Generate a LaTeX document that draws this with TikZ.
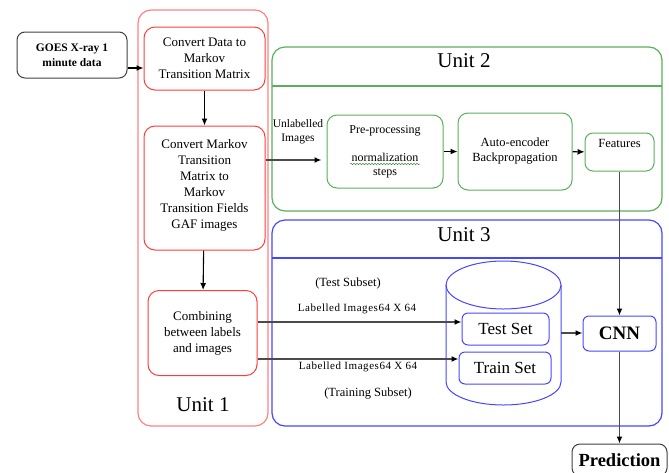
\documentclass[tikz,border=0pt]{standalone}
\usepackage{fontspec}
\setmainfont{Liberation Serif}
\newfontfamily\spacedfont[LetterSpace=5]{Liberation Serif}
\usetikzlibrary{arrows.meta,decorations.pathmorphing}
\definecolor{redA}{RGB}{255,60,60}
\definecolor{redL}{RGB}{255,130,130}
\definecolor{grnA}{RGB}{90,175,90}
\definecolor{bluA}{RGB}{70,70,255}
\definecolor{conn}{RGB}{75,75,75}
\tikzset{
  txt/.style={font=\fontsize{13}{16}\selectfont, align=center, inner sep=0pt},
  rbox/.style={draw=redA, line width=1pt, rounded corners=11pt, txt},
  gbox/.style={draw=grnA, line width=1pt, rounded corners=10pt, txt},
  bbox/.style={draw=bluA, line width=1pt, rounded corners=6pt, txt},
  kbox/.style={draw=black!75, line width=1pt, rounded corners=8pt, txt},
  unitframe/.style={line width=1.2pt, rounded corners=13pt},
  title/.style={font=\fontsize{21}{24}\selectfont, inner sep=0pt},
  arr/.style={draw=black, line width=1.1pt, -{Latex[length=7pt,width=6pt]}},
  garr/.style={draw=conn, line width=1.7pt, -{Latex[length=7pt,width=6pt,color=black]}},
  lab/.style={font=\spacedfont\fontsize{11}{13}\selectfont, inner sep=0pt},
  plab/.style={font=\fontsize{12.5}{14}\selectfont, inner sep=0pt},
}
\begin{document}
\begin{tikzpicture}[x=1pt,y=-1pt]
\useasboundingbox (0,0) rectangle (669,472);
% Unit frames
\draw[unitframe, draw=redL] (138,10) rectangle (268,426);
\draw[unitframe, draw=grnA] (272,47) rectangle (662,211);
\draw[draw=grnA, line width=1.2pt] (272,86) -- (662,86);
\draw[unitframe, draw=bluA] (272,220) rectangle (662,426);
\draw[draw=bluA, line width=1.2pt] (272,258) -- (662,258);
\node[title] (u1) at (203,405) {Unit 1};
\node[title] (u2) at (464,61) {Unit 2};
\node[title] (u3) at (464,235) {Unit 3};

% Unit 1
\node[kbox, minimum width=110pt, minimum height=46pt, font=\bfseries\fontsize{11.5}{15}\selectfont] (goes) at (72,55) {GOES X-ray 1\\minute data};
\node[rbox, minimum width=121pt, minimum height=63pt] (a) at (204.5,58.5) {Convert Data to\\Markov\\Transition Matrix};
\node[rbox, minimum width=121pt, minimum height=124pt] (b) at (204.5,188) {Convert Markov\\Transition\\Matrix to\\Markov\\Transition Fields\\GAF images\\[-8pt]};
\node[rbox, minimum width=109pt, minimum height=85pt] (c) at (202.5,333) {Combining\\between labels\\and images};
\coordinate (g1) at (goes.east |- 0,68);
\draw[arr] (g1) -- (a.west |- g1);
\draw[arr] (a) -- (b);
\draw[arr] (b) -- (c);

% Unit 2
\node[txt, font=\fontsize{11.5}{14}\selectfont] (unl) at (298,132) {Unlabelled\\Images};
\node[gbox, minimum width=116pt, minimum height=73pt, font=\fontsize{12}{14}\selectfont] (pre) at (385,151.5) {Pre-processing\\[14pt]normalization\\steps};
\coordinate (sq1) at (350,164);
\coordinate (sq2) at (420,164);
\draw[grnA!80!black, line width=0.5pt, decorate, decoration={snake, segment length=3pt, amplitude=0.8pt}] (sq1) -- (sq2);
\node[gbox, minimum width=114pt, minimum height=77pt, font=\fontsize{12.5}{15}\selectfont] (auto) at (515,151.5) {Auto-encoder\\Backpropagation};
\node[gbox, minimum width=69pt, minimum height=38pt, rounded corners=8pt, font=\fontsize{12.5}{14}\selectfont] (feat) at (619.5,152) {Features\\[4pt]};
\coordinate (bu) at (b.east |- 0,160);
\draw[garr, shorten >=5pt] (bu) -- (pre.west |- bu);
\draw[arr] (pre) -- (auto);
\draw[arr] (auto) -- (feat);

% Unit 3
\coordinate (cylT) at (503.5,285);
\coordinate (cylTL) at (446,285);
\coordinate (cylTR) at (561,285);
\coordinate (cylBL) at (446,382);
\coordinate (cylBR) at (561,382);
\draw[draw=bluA, line width=1pt] (cylT) ellipse [x radius=57.5pt, y radius=24pt];
\draw[draw=bluA, line width=1pt] (cylTL) -- (cylBL) arc[start angle=180, end angle=360, x radius=57.5pt, y radius=23pt] -- (cylTR);
\node[bbox, minimum width=87pt, minimum height=32pt, font=\fontsize{17}{19}\selectfont] (test) at (505.5,329) {Test Set};
\node[bbox, minimum width=92pt, minimum height=32pt, font=\fontsize{17}{19}\selectfont] (train) at (505,368) {Train Set};
\node[bbox, minimum width=73pt, minimum height=35pt, font=\bfseries\fontsize{19}{21}\selectfont] (cnn) at (619.5,333.5) {CNN};
\node[kbox, minimum width=95pt, minimum height=32pt, font=\bfseries\fontsize{18.5}{20}\selectfont] (pred) at (619.5,460) {Prediction};

\node[plab] (ts) at (348,283) {(Test Subset)};
\node[lab] (l1) at (357,309) {Labelled Images64 X 64};
\node[lab] (l2) at (358,367) {Labelled Images64 X 64};
\node[plab] (trs) at (368,394) {(Training Subset)};

\coordinate (c1) at (c.east |- 0,322);
\coordinate (c2) at (c.east |- 0,359);
\draw[garr] (c1) -- (test.west |- c1);
\draw[garr] (c2) -- (train.west |- c2);
\coordinate (cylR) at (561,333);
\draw[garr] (cylR) -- (cnn.west |- cylR);
\draw[garr] (feat) -- (cnn);
\draw[garr] (cnn) -- (pred);
\end{tikzpicture}
\end{document}
